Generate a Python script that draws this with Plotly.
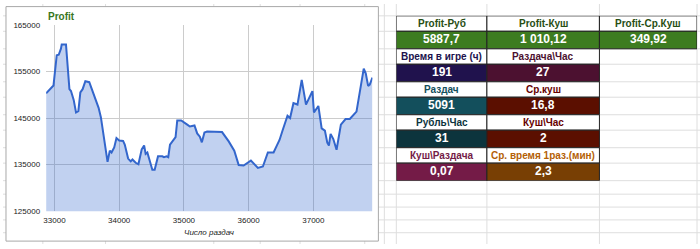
import plotly.graph_objects as go

# ---------------- data ----------------
hands = [32871, 32985, 33035, 33066, 33100, 33112, 33178, 33231, 33255, 33297,
         33333, 33369, 33400, 33435, 33477, 33538, 33682, 33717, 33820, 33855,
         33882, 33923, 33958, 34000, 34060, 34086, 34138, 34178, 34205, 34255,
         34297, 34323, 34348, 34385, 34409, 34435, 34471, 34512, 34548, 34600,
         34666, 34692, 34732, 34758, 34785, 34820, 34871, 34897, 34958, 35051,
         35092, 35163, 35205, 35246, 35277, 35317, 35358, 35589, 35692, 35778,
         35846, 35923, 36035, 36143, 36220, 36297, 36385, 36435, 36477, 36525,
         36600, 36640, 36692, 36754, 36820, 36886, 36985, 37009, 37077, 37128,
         37178, 37215, 37240, 37266, 37308, 37358, 37425, 37497, 37563, 37666,
         37778, 37809, 37846, 37871, 37912]
profit = [150300, 152000, 158500, 158600, 159900, 160800, 160800, 151200, 150800, 148900,
          146200, 146500, 150500, 151200, 152900, 152700, 147200, 145200, 135600, 138000,
          137600, 138700, 140700, 140200, 140100, 139300, 136300, 135700, 136100, 135400,
          135100, 136800, 138300, 139100, 137300, 137600, 135900, 133900, 133900, 136800,
          136800, 136600, 136800, 136600, 139300, 140000, 140900, 144500, 144500, 143600,
          143200, 143400, 141700, 141000, 139800, 141900, 142100, 142000, 140000, 138000,
          134900, 134800, 135900, 134300, 134600, 137600, 137600, 139100, 140300, 142400,
          145500, 145000, 148200, 147900, 153200, 147900, 150800, 146200, 147600, 142800,
          142300, 139700, 139100, 141600, 140500, 138200, 143600, 144800, 144800, 146400,
          155600, 154600, 151900, 152200, 153700]

x_ticks = [33000, 34000, 35000, 36000, 37000]
x_tick_labels = ["33000", "34000", "35000", "36000", "37000"]
y_ticks = [125000, 135000, 145000, 155000, 165000]
y_tick_labels = ["125000", "135000", "145000", "155000", "165000"]

chart_title = "Profit"
x_title = "Число раздач"

# stats table: pairs of (header row, value row)
header_rows = [["Profit-Руб", "Profit-Куш", "Profit-Ср.Куш"],
               ["Время в игре (ч)", "Раздача\\Час"],
               ["Раздач", "Ср.куш"],
               ["Рубль\\Час", "Куш\\Час"],
               ["Куш\\Раздача", "Ср. время 1раз.(мин)"]]
value_rows = [["5887,7", "1 010,12", "349,92"],
              ["191", "27"],
              ["5091", "16,8"],
              ["31", "2"],
              ["0,07", "2,3"]]

# ---------------- styles ----------------
W, H = 700, 249
FONT = "Liberation Sans, Arial, sans-serif"
header_colors = [["#274e13", "#274e13", "#274e13"],
                 ["#20124d", "#4c1130"],
                 ["#134f5c", "#660000"],
                 ["#0c343d", "#660000"],
                 ["#741b47", "#b45f06"]]
value_bg = [["#3d7c20", "#3d7c20", "#3d7c20"],
            ["#20124d", "#4c1130"],
            ["#134f5c", "#5b0f00"],
            ["#0c343d", "#5b0f00"],
            ["#741b47", "#783f04"]]
col_widths = [91, 113, 98]
header_h, value_h = 16, 18.2

# pixel -> paper helpers
def px(x):
    return x / W

def py(y):
    return 1 - y / H

plot_l, plot_r, plot_t, plot_b = 43.3, 371, 21.7, 215
tab_l, tab_t = 395, 12.3
tab_w = sum(col_widths)
tab_h = len(header_rows) * (header_h + value_h)

fig = go.Figure()

fig.add_trace(go.Scatter(
    x=hands, y=profit, mode="lines",
    line=dict(color="#3366cc", width=2),
    fill="tozeroy", fillcolor="rgba(51,102,204,0.3)",
    hoverinfo="skip", showlegend=False))

shapes = []
# spreadsheet grid lines (background)
grid_c = "#dedede"
for gx in [40, 103, 211.7, 258.3, 298.3, 363.3, 383]:
    shapes.append(dict(type="line", xref="paper", yref="paper", x0=px(gx), x1=px(gx),
                       y0=0, y1=1, line=dict(color=grid_c, width=1), layer="below"))
col_edges = [tab_l]
for w in col_widths:
    col_edges.append(col_edges[-1] + w)
for gx in col_edges:
    shapes.append(dict(type="line", xref="paper", yref="paper", x0=px(gx), x1=px(gx),
                       y0=0, y1=1, line=dict(color=grid_c, width=1), layer="below"))
row_edges = [tab_t]
for i in range(len(header_rows)):
    row_edges.append(row_edges[-1] + header_h)
    row_edges.append(row_edges[-1] + value_h)
extra_rows = [197.3, 210.7, 224, 237.3]
for gy in row_edges + extra_rows:
    shapes.append(dict(type="line", xref="paper", yref="paper", x0=0, x1=1,
                       y0=py(gy), y1=py(gy), line=dict(color=grid_c, width=1), layer="below"))
# chart panel
shapes.append(dict(type="rect", xref="paper", yref="paper", x0=px(3), x1=px(377),
                   y0=py(246), y1=py(2.7), fillcolor="white",
                   line=dict(color="#a8a8a8", width=1), layer="below"))

# table cells on axis pair x2/y2 (pixel units inside table)
annotations = []
y = 0
for r, (hdr, val) in enumerate(zip(header_rows, value_rows)):
    x = 0
    for c in range(len(hdr)):
        w = col_widths[c]
        # header cell
        shapes.append(dict(type="rect", xref="x2", yref="y2", x0=x, x1=x + w,
                           y0=y, y1=y + header_h, fillcolor="white",
                           line=dict(color="#222", width=1), layer="above"))
        annotations.append(dict(xref="x2", yref="y2", x=x + w / 2, y=y + header_h / 2,
                                text="<b>" + hdr[c] + "</b>", showarrow=False,
                                font=dict(family=FONT, size=10, color=header_colors[r][c]),
                                xanchor="center", yanchor="middle"))
        # value cell
        shapes.append(dict(type="rect", xref="x2", yref="y2", x0=x, x1=x + w,
                           y0=y + header_h, y1=y + header_h + value_h,
                           fillcolor=value_bg[r][c],
                           line=dict(color="#222", width=1), layer="above"))
        annotations.append(dict(xref="x2", yref="y2", x=x + w / 2,
                                y=y + header_h + value_h / 2,
                                text="<b>" + val[c] + "</b>", showarrow=False,
                                font=dict(family=FONT, size=12, color="white"),
                                xanchor="center", yanchor="middle", yshift=1))
        x += w
    y += header_h + value_h

# chart title and axis title
annotations.append(dict(xref="paper", yref="paper", x=px(plot_l), y=py(12.7),
                        text="<b>" + chart_title + "</b>", showarrow=False,
                        xanchor="left", yanchor="middle",
                        font=dict(family=FONT, size=10, color="#38761d")))
annotations.append(dict(xref="paper", yref="paper", x=px((plot_l + plot_r) / 2), y=py(237.5),
                        text="<i>" + x_title + "</i>", showarrow=False,
                        xanchor="center", yanchor="middle",
                        font=dict(family=FONT, size=8, color="#222")))

fig.update_layout(
    width=W, height=H, margin=dict(l=0, r=0, t=0, b=0),
    paper_bgcolor="white", plot_bgcolor="rgba(0,0,0,0)",
    showlegend=False, shapes=shapes, annotations=annotations,
    xaxis=dict(domain=[px(plot_l), px(plot_r)], range=[min(hands), max(hands)],
               tickmode="array", tickvals=x_ticks, ticktext=x_tick_labels,
               showgrid=True, gridcolor="#cccccc", gridwidth=1, zeroline=False,
               showline=False, ticks="", ticklabelstandoff=3,
               tickfont=dict(family=FONT, size=8, color="#222"), fixedrange=True),
    yaxis=dict(domain=[py(plot_b), py(plot_t)], range=[125000, 165000],
               tickmode="array", tickvals=y_ticks, ticktext=y_tick_labels,
               showgrid=True, gridcolor="#cccccc", gridwidth=1, zeroline=False,
               showline=False, ticks="", ticklabelstandoff=5,
               tickfont=dict(family=FONT, size=8, color="#222"), fixedrange=True),
    xaxis2=dict(domain=[px(tab_l), px(tab_l + tab_w)], range=[0, tab_w], anchor="y2",
                visible=False, fixedrange=True),
    yaxis2=dict(domain=[py(tab_t + tab_h), py(tab_t)], range=[tab_h, 0], anchor="x2",
                visible=False, fixedrange=True),
)

fig.write_html("out.html", config={"displayModeBar": False})
